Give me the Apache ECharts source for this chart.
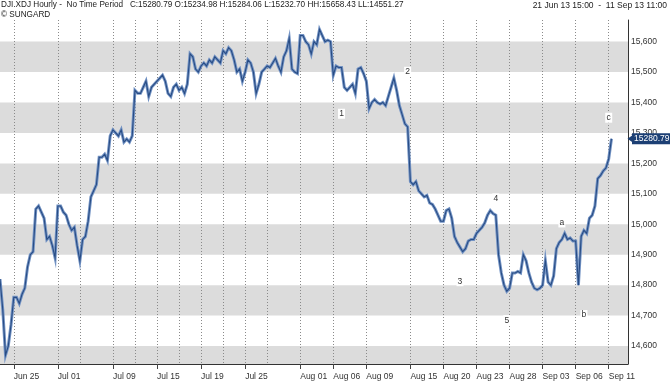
<!DOCTYPE html>
<html><head><meta charset="utf-8">
<script src="https://cdn.jsdelivr.net/npm/echarts@6/dist/echarts.min.js"></script>
<style>html,body{margin:0;padding:0;background:#fff}#c{width:670px;height:381px}</style>
</head><body><div id="c"></div>
<script>
// Trading days shown on the chart (hourly bars, sampled ~4 per session)
const tradingDays = ['Jun 21','Jun 24','Jun 25','Jun 26','Jun 27','Jun 28',
  'Jul 01','Jul 02','Jul 03','Jul 05','Jul 08','Jul 09','Jul 10','Jul 11','Jul 12',
  'Jul 15','Jul 16','Jul 17','Jul 18','Jul 19','Jul 22','Jul 23','Jul 24','Jul 25','Jul 26',
  'Jul 29','Jul 30','Jul 31','Aug 01','Aug 02','Aug 05','Aug 06','Aug 07','Aug 08','Aug 09',
  'Aug 12','Aug 13','Aug 14','Aug 15','Aug 16','Aug 19','Aug 20','Aug 21','Aug 22','Aug 23',
  'Aug 26','Aug 27','Aug 28','Aug 29','Aug 30','Sep 03','Sep 04','Sep 05','Sep 06',
  'Sep 09','Sep 10','Sep 11'];
const hourlyClose = [
  [14820],
  [14720,14570,14600,14670],
  [14760,14760,14740,14770],
  [14790,14860,14900,14910],
  [15050,15060,15040,15020],
  [14950,14960,14930,14890],
  [15060,15060,15040,15030],
  [15000,14980,14990,14930],
  [14880,14950,14960,15010],
  [15090,15110,15130,15220],
  [15220,15230,15210,15290],
  [15310,15300,15290,15310],
  [15270,15280,15270,15290],
  [15440,15430,15430,15450],
  [15470,15420,15450,15460],
  [15470,15480,15490,15470],
  [15430,15420,15450,15460],
  [15440,15450,15430,15460],
  [15560,15550,15510,15500],
  [15520,15530,15520,15540],
  [15530,15550,15540,15530],
  [15570,15560,15580,15570],
  [15540,15500,15510,15470],
  [15500,15540,15530,15500],
  [15430,15460,15500,15510],
  [15520,15515,15530,15545],
  [15520,15500,15550,15570],
  [15610,15510,15500,15495],
  [15620,15620,15600,15590],
  [15560,15600,15590,15640],
  [15620,15600,15605,15600],
  [15490,15520,15515,15515],
  [15450,15440,15450,15460],
  [15430,15510,15515,15495],
  [15470,15380,15400,15410],
  [15400,15395,15400,15390],
  [15420,15450,15480,15440],
  [15390,15360,15330,15320],
  [15140,15130,15140,15110],
  [15100,15090,15095,15070],
  [15065,15050,15030,15010],
  [15010,15045,15050,15020],
  [14960,14940,14925,14910],
  [14920,14945,14950,14950],
  [14970,14980,14990,15005],
  [15030,15045,15035,15030],
  [14900,14840,14800,14780],
  [14790,14840,14840,14845],
  [14840,14900,14880,14840],
  [14810,14790,14785,14790],
  [14800,14880,14810,14800],
  [14830,14920,14940,14950],
  [14970,14950,14955,14945],
  [14945,14800,14960,14980],
  [14970,15020,15030,15060],
  [15150,15160,15175,15185],
  [15215,15280.79]
];
const tickDays = ['Jun 25','Jul 01','Jul 09','Jul 15','Jul 19','Jul 25','Aug 01','Aug 06',
  'Aug 09','Aug 15','Aug 20','Aug 23','Aug 28','Sep 03','Sep 06','Sep 11'];
const minorGridDays = ['Jul 03','Jul 11','Jul 17','Jul 23','Jul 29'];
const priceTicks = [14600,14700,14800,14900,15000,15100,15200,15300,15400,15500,15600];
const yMin = 14541, yMax = 15671;
const bandRanges = [[15500,15600],[15300,15400],[15100,15200],[14900,15000],[14700,14800],[yMin,14600]];
// wave annotations: [text, slot index, price]
const waveLabels = [['1',124,15363],['2',148,15501],['3',166.5,14813],['4',180.3,15085],
  ['5',183.6,14685],['a',204.3,15006],['b',211.5,14702],['c',221,15350]];
const lastClose = 15280.79;
const padSlots = 6;

const categories = [], values = [], firstSlot = {};
tradingDays.forEach((d, i) => {
  hourlyClose[i].forEach((v, k) => {
    if (k === 0) firstSlot[categories.length] = d;
    categories.push(d + ' #' + (k + 1));
    values.push(v);
  });
});
for (let i = 0; i < padSlots; i++) categories.push('pad ' + i);
const isTick = idx => firstSlot[idx] !== undefined && tickDays.includes(firstSlot[idx]);
const isGrid = idx => isTick(idx) || (firstSlot[idx] !== undefined && minorGridDays.includes(firstSlot[idx]));

const FONT = '"Liberation Sans", Arial, sans-serif';
const chart = echarts.init(document.getElementById('c'), null, {renderer: 'canvas'});
chart.setOption({
  animation: false,
  backgroundColor: '#fff',
  title: [
    {text: 'DJI.XDJ Hourly -  No Time Period   C:15280.79 O:15234.98 H:15284.06 L:15232.70 HH:15658.43 LL:14551.27',
     left: 1, top: 1, padding: 0, textStyle: {fontSize: 8.2, fontWeight: 'normal', color: '#222', fontFamily: FONT}},
    {text: '\u00a9 SUNGARD', left: 1, top: 11, padding: 0,
     textStyle: {fontSize: 8.2, fontWeight: 'normal', color: '#222', fontFamily: FONT}},
    {text: '21 Jun 13 15:00  -  11 Sep 13 11:00', right: 3, top: 1, padding: 0,
     textStyle: {fontSize: 8.5, fontWeight: 'normal', color: '#222', fontFamily: FONT}}
  ],
  grid: {left: 0, right: 42, top: 20, bottom: 16, containLabel: false},
  xAxis: {
    type: 'category', data: categories, boundaryGap: false, z: 1.5,
    axisLine: {show: true, lineStyle: {color: '#333', width: 1}},
    axisTick: {show: true, interval: (i) => isTick(i), length: 5, lineStyle: {color: '#444'}},
    axisLabel: {show: true, interval: (i) => isTick(i), formatter: v => v.slice(0, 6),
      align: 'left', margin: 8, fontSize: 8.5, color: '#333', fontFamily: FONT},
    splitLine: {show: true, interval: (i) => isGrid(i), lineStyle: {color: '#8a8a8a', type: [1, 2], width: 1}}
  },
  yAxis: {
    type: 'value', position: 'right', min: yMin, max: yMax, z: 1.5,
    axisLine: {show: true, lineStyle: {color: '#333', width: 1}},
    axisTick: {show: false},
    axisLabel: {show: true, customValues: priceTicks, margin: 3, fontSize: 8.5, color: '#333', fontFamily: FONT},
    splitLine: {show: false}
  },
  series: [
    {
      type: 'line', data: values, showSymbol: false, z: 2,
      lineStyle: {width: 3, color: '#7393c4', join: 'miter'},
      markArea: {silent: true, itemStyle: {color: '#dcdcdc'},
        data: bandRanges.map(r => [{yAxis: r[0]}, {yAxis: r[1]}])}
    },
    {
      type: 'line', data: values, showSymbol: false, z: 3, clip: false,
      lineStyle: {width: 1.1, color: '#284c84', join: 'miter'},
      markPoint: {
        silent: true,
        data: waveLabels.map(w => ({coord: [w[1], w[2]], value: w[0], symbol: 'rect', symbolSize: [7, 10],
          itemStyle: {color: '#fff'},
          label: {show: true, position: 'inside', formatter: w[0], fontSize: 8.5, color: '#333', fontFamily: FONT}}))
          .concat([{coord: [categories.length - 1, lastClose], symbol: 'triangle', symbolRotate: 90,
            symbolSize: [7, 5], symbolOffset: [2, 0], itemStyle: {color: '#1c3f74'}, label: {show: false}}])
      },
      markLine: {
        silent: true, symbol: ['none', 'none'], animation: false,
        lineStyle: {color: 'rgba(0,0,0,0)', width: 1, type: 'solid'},
        data: [{yAxis: lastClose, name: 'last'}],
        label: {show: true, position: 'end', distance: 4, formatter: function () { return '15280.79'; },
          color: '#ffffff', backgroundColor: '#1c3f74', padding: [1, 2, 1, 2], fontSize: 8.5, fontFamily: FONT}
      }
    }
  ]
});
</script></body></html>
